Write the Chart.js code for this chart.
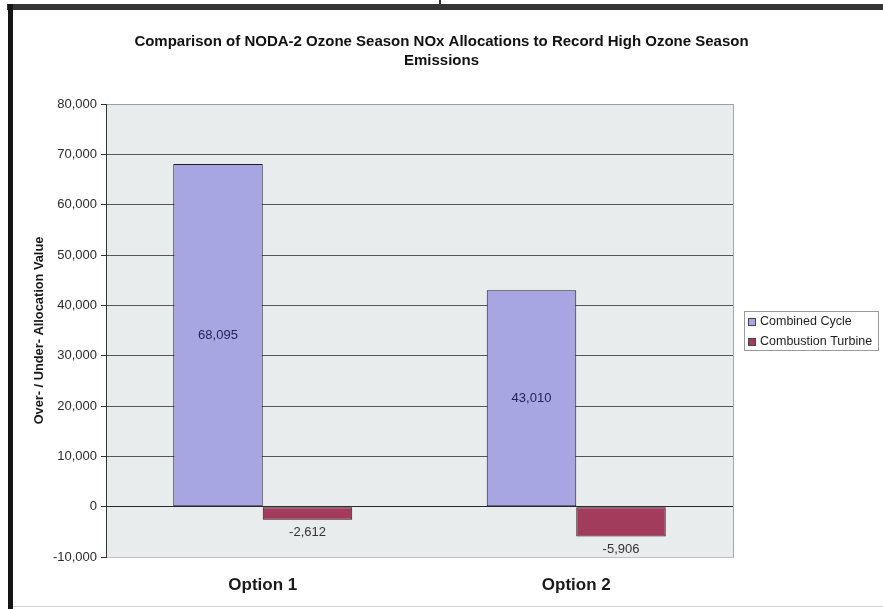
<!DOCTYPE html>
<html>
<head>
<meta charset="utf-8">
<title>NODA-2 Ozone Season NOx Allocations</title>
<script src="https://cdn.jsdelivr.net/npm/chart.js@4.4.1/dist/chart.umd.min.js"></script>
<style>
    body { margin: 0; background: #fff; }
    #frame { position: relative; width: 883px; height: 609px; overflow: hidden; background: #fff; }
    #frame canvas { position: absolute; left: 0; top: 0; }
    .edge { position: absolute; }
    #edge-top { left: 7px; top: 4px; width: 876px; height: 6px; background: #353535; }
    #edge-left { left: 8px; top: 4px; width: 5px; height: 605px; background: #151515; }
    #edge-bottom { left: 13px; top: 606px; width: 870px; height: 1px; background: #d4d4d4; }
    #edge-mark { left: 439px; top: 0; width: 2px; height: 5px; background: #303030; }
</style>
</head>
<body>
<div id="frame">
    <canvas id="noxChart" width="883" height="609"></canvas>
    <div class="edge" id="edge-top"></div>
    <div class="edge" id="edge-mark"></div>
    <div class="edge" id="edge-left"></div>
    <div class="edge" id="edge-bottom"></div>
</div>
<script>
const options = ['Option 1', 'Option 2'];
const combinedCycle = [68095, 43010];
const combustionTurbine = [-2612, -5906];
const seriesNames = ['Combined Cycle', 'Combustion Turbine'];
const titleLines = [
    'Comparison of NODA-2 Ozone Season NOx Allocations to Record High Ozone Season',
    'Emissions'
];
const axisTitle = 'Over- / Under- Allocation Value';

const FONT = "'Liberation Sans', Arial, sans-serif";

const fmt = v => v.toLocaleString('en-US');

// grey plot area plus a light right-hand edge
const plotBackground = {
    id: 'plotBackground',
    beforeDraw(chart) {
        const { ctx, chartArea: a } = chart;
        ctx.save();
        ctx.fillStyle = '#e9ecec';
        ctx.fillRect(a.left, a.top, a.right - a.left, a.bottom - a.top);
        ctx.strokeStyle = '#a8a8a8';
        ctx.lineWidth = 1;
        ctx.beginPath();
        ctx.moveTo(Math.round(a.right) + 0.5, a.top);
        ctx.lineTo(Math.round(a.right) + 0.5, a.bottom);
        ctx.stroke();
        ctx.restore();
    }
};

// value labels: centred in positive bars, just under negative ones
const valueLabels = {
    id: 'valueLabels',
    afterDatasetsDraw(chart) {
        const { ctx } = chart;
        ctx.save();
        ctx.font = '13px ' + FONT;
        ctx.textAlign = 'center';
        ctx.textBaseline = 'middle';
        chart.data.datasets.forEach((ds, i) => {
            const meta = chart.getDatasetMeta(i);
            meta.data.forEach((bar, j) => {
                const v = ds.data[j];
                let y;
                if (v >= 0) {
                    y = (bar.y + bar.base) / 2;
                    ctx.fillStyle = '#23235a';
                } else {
                    y = bar.y + 13;
                    ctx.fillStyle = '#333';
                }
                ctx.fillText(fmt(v), bar.x, y);
            });
        });
        ctx.restore();
    }
};

// boxed legend to the right of the plot
const boxLegend = {
    id: 'boxLegend',
    afterDraw(chart) {
        const { ctx } = chart;
        const x = 744, y = 311, w = 134, h = 39;
        ctx.save();
        ctx.fillStyle = '#fff';
        ctx.fillRect(x, y, w, h);
        ctx.strokeStyle = '#9a9a9a';
        ctx.lineWidth = 1;
        ctx.strokeRect(x + 0.5, y + 0.5, w, h);
        ctx.font = '12.5px ' + FONT;
        ctx.textBaseline = 'middle';
        chart.data.datasets.forEach((ds, i) => {
            const cy = y + 11 + i * 20;
            ctx.fillStyle = ds.backgroundColor;
            ctx.fillRect(x + 4, cy - 4, 8, 8);
            ctx.strokeStyle = '#444';
            ctx.strokeRect(x + 4.5, cy - 3.5, 7, 7);
            ctx.fillStyle = '#222';
            ctx.fillText(ds.label, x + 16, cy);
        });
        ctx.restore();
    }
};

const gridColour = c => {
    if (c.tick.value === 0) return '#2a2a2a';
    if (c.tick.value === 80000) return '#a0a0a0';
    if (c.tick.value === -10000) return '#c0c0c0';
    return '#555';
};

const ctx = document.getElementById('noxChart').getContext('2d');
new Chart(ctx, {
    type: 'bar',
    data: {
        labels: options,
        datasets: [
            {
                label: seriesNames[0],
                data: combinedCycle,
                backgroundColor: '#a7a6e2',
                borderColor: '#1c1c30',
                borderWidth: 1,
                borderSkipped: false
            },
            {
                label: seriesNames[1],
                data: combustionTurbine,
                backgroundColor: '#a33b5c',
                borderColor: '#2a161e',
                borderWidth: 1,
                borderSkipped: false
            }
        ]
    },
    options: {
        responsive: false,
        devicePixelRatio: 1,
        animation: false,
        layout: { padding: 0 },
        datasets: {
            bar: { categoryPercentage: 0.571, barPercentage: 1 }
        },
        scales: {
            x: {
                grid: { display: false, drawTicks: false },
                border: { color: '#c0c0c0' },
                ticks: {
                    padding: 18,
                    color: '#1a1a1a',
                    font: { family: FONT, size: 17, weight: 'bold' }
                },
                afterFit: scale => { scale.height = 52; }
            },
            y: {
                min: -10000,
                max: 80000,
                ticks: {
                    stepSize: 10000,
                    padding: 4,
                    color: '#2a2a2a',
                    font: { family: FONT, size: 13 },
                    callback: v => fmt(v)
                },
                grid: {
                    color: gridColour,
                    tickColor: '#333',
                    tickLength: 5,
                    lineWidth: 1
                },
                border: { color: '#333' },
                title: {
                    display: true,
                    text: axisTitle,
                    color: '#1a1a1a',
                    font: { family: FONT, size: 12.8, weight: 'bold' },
                    padding: { top: 32, bottom: 0 }
                },
                afterFit: scale => { scale.width = 106; }
            },
            // empty right-hand axis keeps room for the legend
            side: {
                position: 'right',
                display: true,
                ticks: { display: false },
                grid: { display: false, drawTicks: false },
                border: { display: false },
                afterFit: scale => { scale.width = 150; }
            }
        },
        plugins: {
            legend: { display: false },
            tooltip: { enabled: false },
            title: {
                display: true,
                text: titleLines,
                color: '#111',
                font: { family: FONT, size: 15, weight: 'bold', lineHeight: 1.267 },
                padding: { top: 32.5, bottom: 33.5 }
            }
        }
    },
    plugins: [plotBackground, valueLabels, boxLegend]
});
</script>
</body>
</html>
